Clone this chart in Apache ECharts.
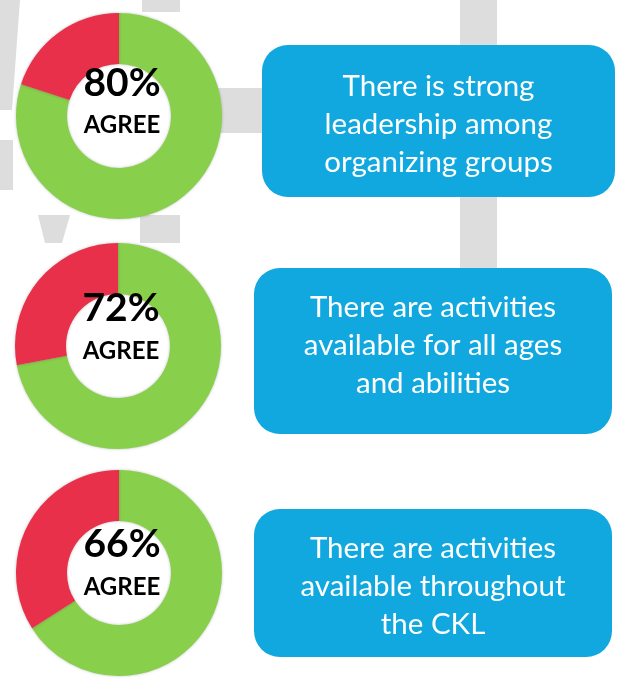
<!DOCTYPE html>
<html>
<head>
<meta charset="utf-8">
<script src="https://cdn.jsdelivr.net/npm/echarts@6/dist/echarts.min.js"></script>
<style>html,body{margin:0;padding:0;background:#fff;}#c{width:618px;height:681px;}</style>
</head>
<body>
<div id="c"></div>
<script>
// ---- data ----
const agreeValues = [80, 72, 66];
const agreeWord = 'AGREE';
const statements = [
  'There is strong\nleadership among\norganizing groups',
  'There are activities\navailable for all ages\nand abilities',
  'There are activities\navailable throughout\nthe CKL'
];
const sliceNames = ['Agree', 'Other'];

// ---- layout/style ----
const donutCenters = [[119, 116], [118, 346], [119, 573]];
const pctOffsets = [-33, -38, -29];
const wordOffsets = [9, 5, 14];
const boxes = [[262, 45, 353, 152], [254, 268, 358, 166], [254, 509, 358, 148]];
const textShift = [3, -6, 3];
const GREEN = '#88cf4c', RED = '#e8304a', BLUE = '#10a8df', GREY = '#dddddd';

const chart = echarts.init(document.getElementById('c'), null, {renderer: 'canvas'});

const series = agreeValues.map((v, i) => ({
  type: 'pie',
  center: donutCenters[i],
  radius: [52, 103],
  startAngle: 90,
  clockwise: true,
  silent: true,
  label: {show: false},
  labelLine: {show: false},
  itemStyle: {borderWidth: 0, shadowBlur: 3, shadowColor: 'rgba(0,0,0,0.25)'},
  data: [
    {name: sliceNames[0], value: v, itemStyle: {color: GREEN}},
    {name: sliceNames[1], value: 100 - v, itemStyle: {color: RED}}
  ],
  z: 2
}));

const graphics = [];
// background watermark pieces
graphics.push({type: 'rect', shape: {x: 460, y: 0, width: 37, height: 270}, style: {fill: GREY}, z: 0});
graphics.push({type: 'rect', shape: {x: 142, y: 0, width: 38, height: 12}, style: {fill: GREY}, z: 0});
graphics.push({type: 'rect', shape: {x: 215, y: 88, width: 47, height: 45}, style: {fill: GREY}, z: 0});
graphics.push({type: 'rect', shape: {x: 140, y: 215, width: 40, height: 28}, style: {fill: GREY}, z: 0});
graphics.push({type: 'polygon', shape: {points: [[38, 215], [70, 215], [62, 243], [45, 243]]}, style: {fill: GREY}, z: 0});
graphics.push({type: 'polygon', shape: {points: [[0, 0], [20, 0], [12, 110], [0, 110]]}, style: {fill: GREY}, z: 0});
graphics.push({type: 'rect', shape: {x: 0, y: 140, width: 13, height: 50}, style: {fill: GREY}, z: 0});

boxes.forEach((b, i) => {
  graphics.push({
    type: 'rect',
    shape: {x: b[0], y: b[1], width: b[2], height: b[3], r: 26},
    style: {fill: BLUE},
    z: 1
  });
  graphics.push({
    type: 'text',
    x: b[0] + b[2] / 2,
    y: b[1] + b[3] / 2 + textShift[i],
    style: {
      text: statements[i],
      fill: '#ffffff',
      font: '29.5px Lato, "Open Sans", sans-serif',
      lineHeight: 38,
      align: 'center',
      verticalAlign: 'middle'
    },
    z: 3
  });
});

agreeValues.forEach((v, i) => {
  const c = donutCenters[i];
  graphics.push({
    type: 'text', x: c[0] + 3, y: c[1] + pctOffsets[i],
    style: {text: v + '%', fill: '#000', font: 'bold 39px Lato, sans-serif', align: 'center', verticalAlign: 'middle'},
    z: 5
  });
  graphics.push({
    type: 'text', x: c[0] + 3, y: c[1] + wordOffsets[i],
    style: {text: agreeWord, fill: '#000', font: 'bold 24px Lato, sans-serif', align: 'center', verticalAlign: 'middle'},
    z: 5
  });
});

chart.setOption({
  backgroundColor: '#ffffff',
  animation: false,
  series: series,
  graphic: {elements: graphics}
});
</script>
</body>
</html>
